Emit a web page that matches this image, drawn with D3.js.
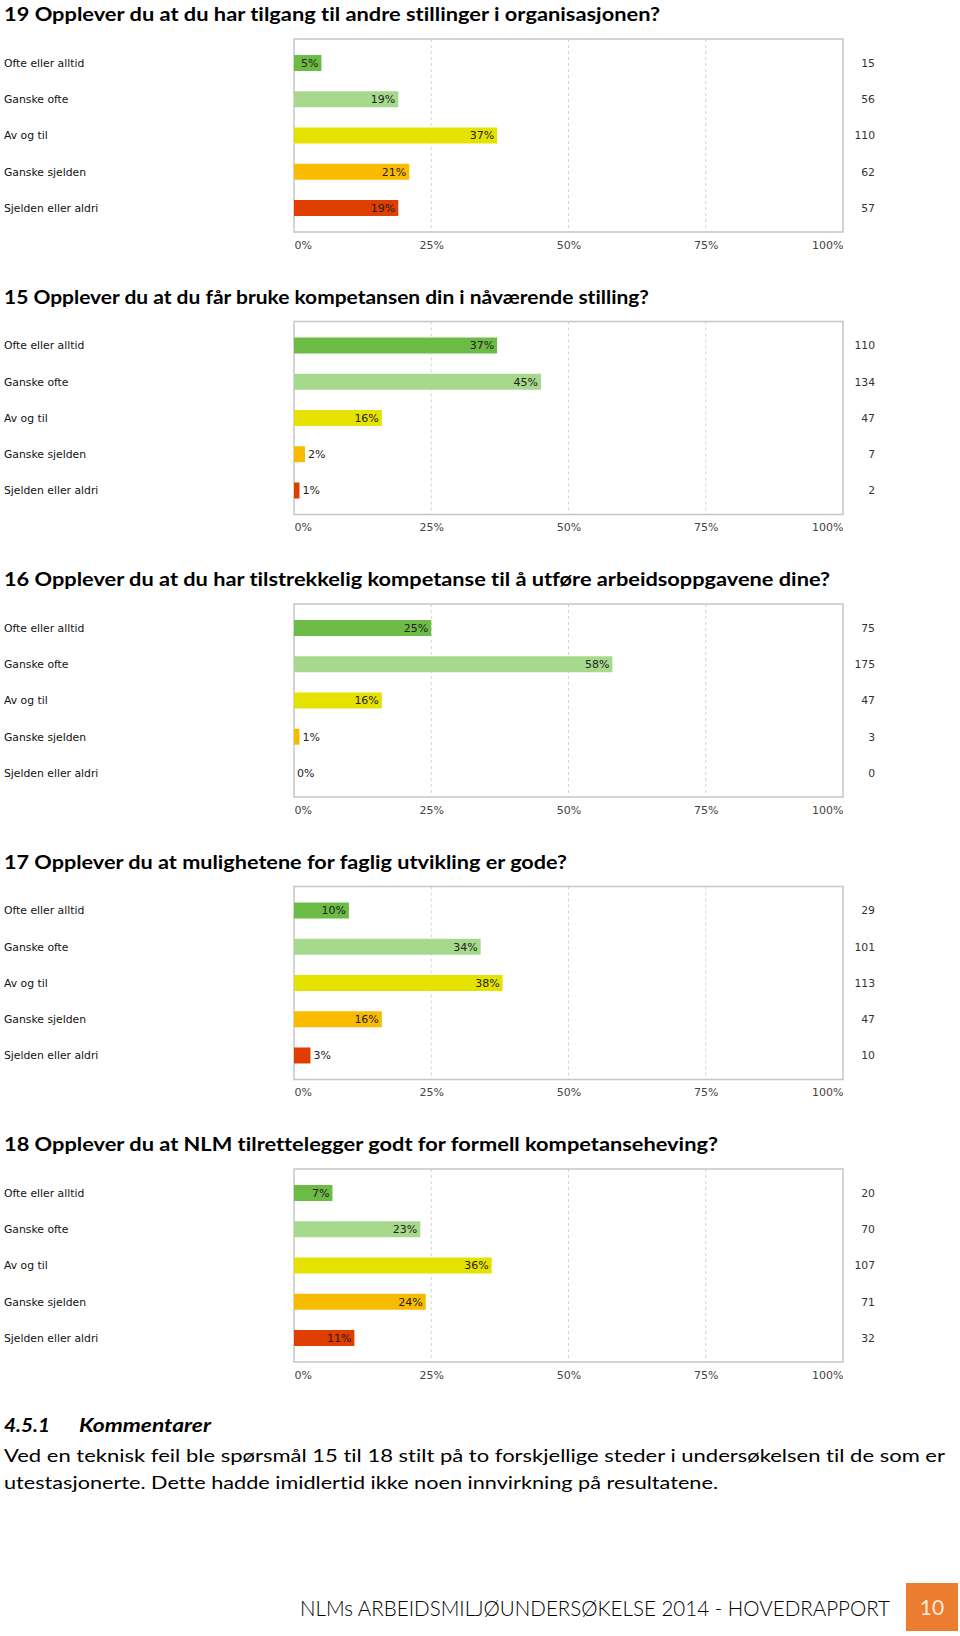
<!DOCTYPE html>
<html>
<head>
<meta charset="utf-8">
<script src="https://cdn.jsdelivr.net/npm/d3@7"></script>
<style>
  html, body { margin: 0; padding: 0; background: #fff; }
  svg { display: block; }
  text { font-variant-ligatures: none; }
</style>
</head>
<body>
<div id="chart"></div>
<script>
// ---------- DATA ----------
const categories = ["Ofte eller alltid", "Ganske ofte", "Av og til", "Ganske sjelden", "Sjelden eller aldri"];

const titles = [
  "19 Opplever du at du har tilgang til andre stillinger i organisasjonen?",
  "15 Opplever du at du får bruke kompetansen din i nåværende stilling?",
  "16 Opplever du at du har tilstrekkelig kompetanse til å utføre arbeidsoppgavene dine?",
  "17 Opplever du at mulighetene for faglig utvikling er gode?",
  "18 Opplever du at NLM tilrettelegger godt for formell kompetanseheving?"
];

const pctQ19 = [5, 19, 37, 21, 19];
const cntQ19 = [15, 56, 110, 62, 57];
const pctQ15 = [37, 45, 16, 2, 1];
const cntQ15 = [110, 134, 47, 7, 2];
const pctQ16 = [25, 58, 16, 1, 0];
const cntQ16 = [75, 175, 47, 3, 0];
const pctQ17 = [10, 34, 38, 16, 3];
const cntQ17 = [29, 101, 113, 47, 10];
const pctQ18 = [7, 23, 36, 24, 11];
const cntQ18 = [20, 70, 107, 71, 32];

const tickValues = [0, 25, 50, 75, 100];

const heading = ["4.5.1", "Kommentarer"];
const bodyLines = [
  "Ved en teknisk feil ble spørsmål 15 til 18 stilt på to forskjellige steder i undersøkelsen til de som er",
  "utestasjonerte. Dette hadde imidlertid ikke noen innvirkning på resultatene."
];
const footerText = "NLMs ARBEIDSMILJØUNDERSØKELSE 2014 - HOVEDRAPPORT";
const pageNumber = "10";

// ---------- STYLE / LAYOUT ----------
const colors = ["#6cbb44", "#a7d98c", "#e6e200", "#f9bb00", "#e03d00"];
const W = 960, H = 1636;
const chartSeries = [
  { pct: pctQ19, cnt: cntQ19 },
  { pct: pctQ15, cnt: cntQ15 },
  { pct: pctQ16, cnt: cntQ16 },
  { pct: pctQ17, cnt: cntQ17 },
  { pct: pctQ18, cnt: cntQ18 }
];
const titleWidths = [656, 645, 826, 563, 714];

const svg = d3.select("#chart").append("svg")
  .attr("width", W).attr("height", H)
  .style("background", "#fff");

const plotLeft = 294, plotRight = 843, plotH = 193;
const x = d3.scaleLinear().domain([0, 100]).range([plotLeft, plotRight]);
const y = d3.scaleBand().domain(categories).range([0, plotH])
  .paddingInner(0.559).paddingOuter(0.442);

const uiFont = "'DejaVu Sans', Verdana, sans-serif";
const docFont = "Lato, 'Open Sans', sans-serif";

chartSeries.forEach((s, i) => {
  const top = 39 + i * 282.5;
  const g = svg.append("g").attr("transform", `translate(0,${top})`);

  // title
  g.append("text")
    .attr("x", 4).attr("y", -18)
    .attr("font-family", docFont).attr("font-weight", 700)
    .attr("font-size", 19.5).attr("fill", "#000")
    .attr("textLength", titleWidths[i]).attr("lengthAdjust", "spacingAndGlyphs")
    .text(titles[i]);

  // grid lines
  g.selectAll("line.grid").data(tickValues.filter(t => t > 0 && t < 100)).enter()
    .append("line").attr("class", "grid")
    .attr("x1", d => x(d)).attr("x2", d => x(d))
    .attr("y1", 0).attr("y2", plotH)
    .attr("stroke", "#d4d4d4").attr("stroke-width", 1)
    .attr("stroke-dasharray", "3,3");

  // frame
  g.append("rect")
    .attr("x", plotLeft).attr("y", 0)
    .attr("width", plotRight - plotLeft).attr("height", plotH)
    .attr("fill", "none").attr("stroke", "#c6c6c6").attr("stroke-width", 1.5);

  // bars
  const rows = categories.map((c, j) => ({ c, v: s.pct[j], n: s.cnt[j], col: colors[j] }));
  g.selectAll("rect.bar").data(rows).enter().append("rect")
    .attr("class", "bar")
    .attr("x", x(0))
    .attr("y", d => y(d.c))
    .attr("width", d => x(d.v) - x(0))
    .attr("height", y.bandwidth())
    .attr("fill", d => d.col);

  // value labels
  g.selectAll("text.val").data(rows).enter().append("text")
    .attr("class", "val")
    .attr("x", d => d.v >= 4 ? x(d.v) - 3 : x(d.v) + 3)
    .attr("y", d => y(d.c) + y.bandwidth() / 2)
    .attr("dy", "0.36em")
    .attr("text-anchor", d => d.v >= 4 ? "end" : "start")
    .attr("font-family", uiFont).attr("font-size", 11)
    .attr("fill", "#222")
    .text(d => d.v + "%");

  // category labels
  g.selectAll("text.cat").data(rows).enter().append("text")
    .attr("class", "cat")
    .attr("x", 4)
    .attr("y", d => y(d.c) + y.bandwidth() / 2)
    .attr("dy", "0.36em")
    .attr("font-family", uiFont).attr("font-size", 10.8)
    .attr("fill", "#111")
    .text(d => d.c);

  // counts
  g.selectAll("text.cnt").data(rows).enter().append("text")
    .attr("class", "cnt")
    .attr("x", 875)
    .attr("y", d => y(d.c) + y.bandwidth() / 2)
    .attr("dy", "0.36em")
    .attr("text-anchor", "end")
    .attr("font-family", uiFont).attr("font-size", 10.8)
    .attr("fill", "#333")
    .text(d => d.n);

  // x axis
  const axis = d3.axisBottom(x).tickValues(tickValues).tickSize(0).tickPadding(9)
    .tickFormat(d => d + "%");
  const ax = g.append("g").attr("transform", `translate(0,${plotH})`).call(axis);
  ax.select(".domain").remove();
  ax.selectAll("text")
    .attr("font-family", uiFont).attr("font-size", 11).attr("fill", "#444")
    .attr("text-anchor", d => d === 0 ? "start" : (d === 100 ? "end" : "middle"));
});

// ---------- TEXT BLOCK ----------
svg.append("text")
  .attr("x", 4).attr("y", 1432)
  .attr("font-family", docFont).attr("font-weight", 700).attr("font-style", "italic")
  .attr("font-size", 18).attr("fill", "#000")
  .attr("textLength", 46).attr("lengthAdjust", "spacingAndGlyphs")
  .text(heading[0]);
svg.append("text")
  .attr("x", 79).attr("y", 1432)
  .attr("font-family", docFont).attr("font-weight", 700).attr("font-style", "italic")
  .attr("font-size", 18).attr("fill", "#000")
  .attr("textLength", 132).attr("lengthAdjust", "spacingAndGlyphs")
  .text(heading[1]);

const bodyWidths = [941, 714];
bodyLines.forEach((t, k) => {
  svg.append("text")
    .attr("x", 4).attr("y", 1462 + k * 27)
    .attr("font-family", docFont).attr("font-size", 17.5).attr("fill", "#000")
    .attr("textLength", bodyWidths[k]).attr("lengthAdjust", "spacingAndGlyphs")
    .text(t);
});

// ---------- FOOTER ----------
svg.append("text")
  .attr("x", 300).attr("y", 1616)
  .attr("font-family", docFont).attr("font-weight", 300)
  .attr("font-size", 21).attr("fill", "#000")
  .attr("textLength", 590).attr("lengthAdjust", "spacingAndGlyphs")
  .text(footerText);

svg.append("rect")
  .attr("x", 906).attr("y", 1583).attr("width", 52).attr("height", 48)
  .attr("fill", "#ec7c30");
svg.append("text")
  .attr("x", 932).attr("y", 1615)
  .attr("text-anchor", "middle")
  .attr("font-family", docFont).attr("font-size", 21).attr("fill", "#fde9d9")
  .text(pageNumber);
</script>
</body>
</html>
